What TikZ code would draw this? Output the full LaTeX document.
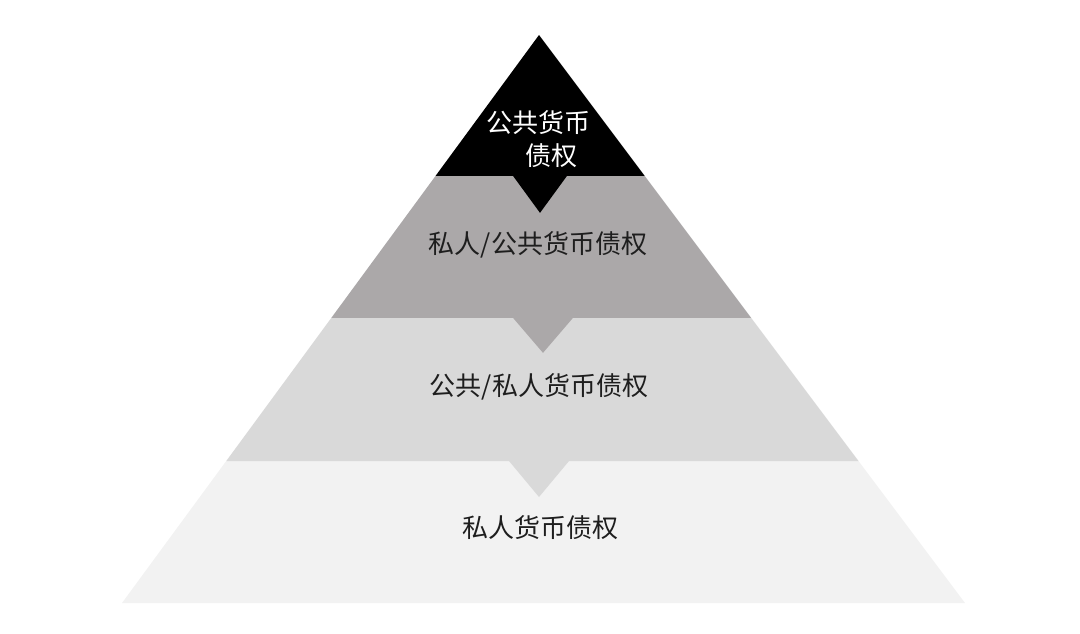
\documentclass[tikz,border=0pt]{standalone}
\usepackage{fontspec}
\setmainfont{Noto Sans CJK SC}
\usetikzlibrary{calc}

\definecolor{tierA}{HTML}{000000}
\definecolor{tierB}{HTML}{ABA8A9}
\definecolor{tierC}{HTML}{D9D9D9}
\definecolor{tierD}{HTML}{F2F2F2}
\definecolor{ink}{HTML}{1E1E1E}

\tikzset{
 lbl/.style={font=\fontsize{26}{33}\selectfont, align=center, text=ink, inner sep=0pt},
}

\begin{document}
\begin{tikzpicture}[x=1pt, y=-1pt]
 \useasboundingbox (0,0) rectangle (1080,634);
 \coordinate (apex) at (539,35);
 \coordinate (bl) at (122,603);
 \coordinate (br) at (965,603);
 \coordinate (l1) at ($(apex)!0.248!(bl)$);
 \coordinate (r1) at ($(apex)!0.248!(br)$);
 \coordinate (l2) at ($(apex)!0.498!(bl)$);
 \coordinate (r2) at ($(apex)!0.498!(br)$);
 \coordinate (l3) at ($(apex)!0.75!(bl)$);
 \coordinate (r3) at ($(apex)!0.75!(br)$);
 \coordinate (m1) at (540,0 |- l1);
 \coordinate (m2) at (543,0 |- l2);
 \coordinate (m3) at (539,0 |- l3);

 % bottom tier
 \fill[tierD] (l3) -- (r3) -- (br) -- (bl) -- cycle;
 % third tier
 \fill[tierC] (l2) -- (r2) -- (r3) -- ($(m3)+(30,0)$) -- ($(m3)+(0,36)$)
 -- ($(m3)+(-30,0)$) -- (l3) -- cycle;
 % second tier
 \fill[tierB] (l1) -- (r1) -- (r2) -- ($(m2)+(30,0)$) -- ($(m2)+(0,35)$)
 -- ($(m2)+(-30,0)$) -- (l2) -- cycle;
 % top tier
 \fill[tierA] (apex) -- (r1) -- ($(m1)+(27,0)$) -- ($(m1)+(0,37)$)
 -- ($(m1)+(-27,0)$) -- (l1) -- cycle;

 \node[lbl, text=white] (top) at (538,139) {公共货币\\\hspace*{1em}债权};
 \node[lbl] (mixA) at (538,245) {私人/公共货币债权};
 \node[lbl] (mixB) at (539,387) {公共/私人货币债权};
 \node[lbl] (base) at (540,528) {私人货币债权};
\end{tikzpicture}
\end{document}
